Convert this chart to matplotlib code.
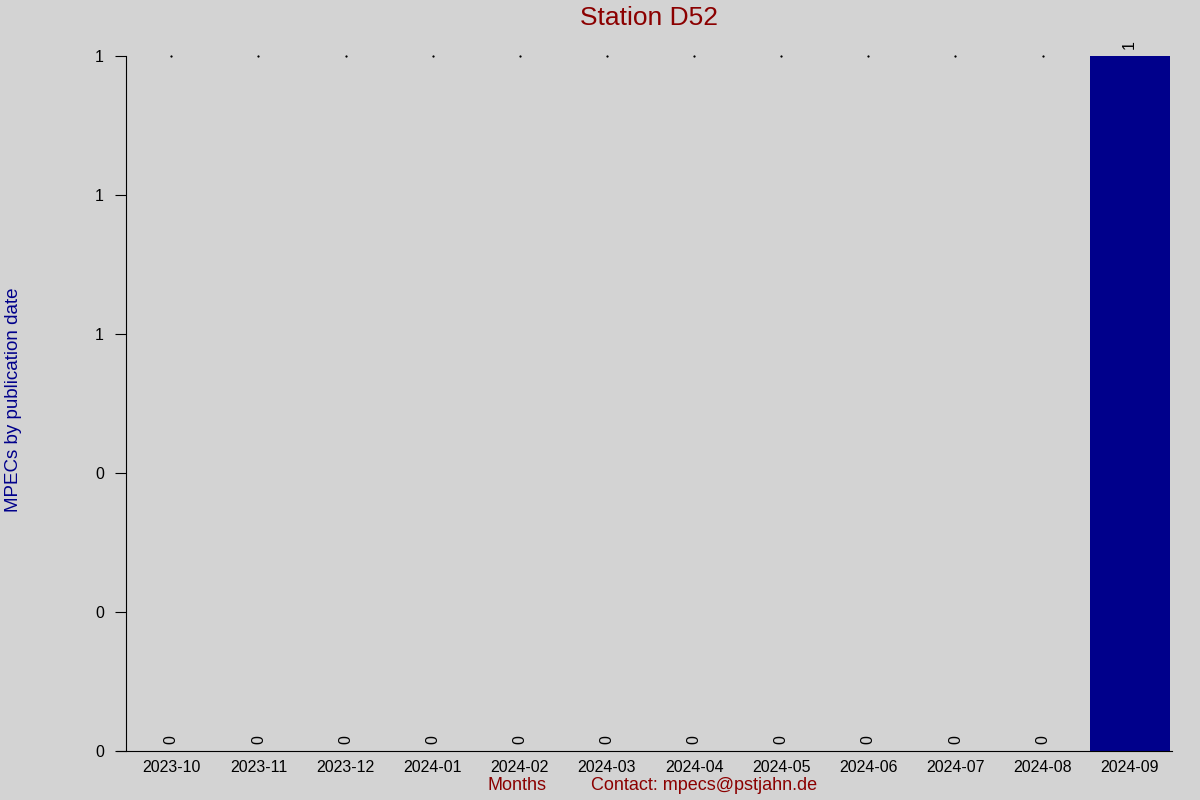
import matplotlib
matplotlib.use("Agg")
import matplotlib.pyplot as plt
from matplotlib.ticker import FuncFormatter

plt.rcParams['font.family'] = ['Liberation Sans', 'DejaVu Sans']

# data
months = ["2023-10", "2023-11", "2023-12", "2024-01", "2024-02", "2024-03",
          "2024-04", "2024-05", "2024-06", "2024-07", "2024-08", "2024-09"]
counts = [0, 0, 0, 0, 0, 0, 0, 0, 0, 0, 0, 1]

bg = "#d3d3d3"
fig = plt.figure(figsize=(12, 8), dpi=100, facecolor=bg)
ax = fig.add_axes([0.105, 0.061, 0.872, 0.869], facecolor=bg)

x = list(range(len(months)))
ax.bar(x, counts, width=0.92, color="#00008b")

# value labels above bars
for xi, c in zip(x, counts):
    ax.text(xi, c + 0.01, str(c), rotation=90, ha="center", va="bottom",
            fontsize=11.5, color="black")

# little marks at the top for empty months
top = max(counts)
ax.plot([xi for xi, c in zip(x, counts) if c == 0],
        [top for c in counts if c == 0], ls="none", marker="s",
        markersize=0.6, color="black", clip_on=False)

ax.set_xlim(-0.52, len(months) - 0.51)
ax.set_ylim(0, top)
ax.set_yticks([0, 0.2, 0.4, 0.6, 0.8, 1.0])
ax.yaxis.set_major_formatter(FuncFormatter(lambda v, p: "%d" % int(v + 0.5)))
ax.set_xticks(x)
ax.set_xticklabels(months)
ax.tick_params(axis="x", length=0, labelsize=11.5, pad=6)
ax.tick_params(axis="y", length=8, direction="out", labelsize=11.5, pad=8)

for s in ["top", "right"]:
    ax.spines[s].set_visible(False)
ax.spines["bottom"].set_bounds(-0.62, len(months) - 0.51)

fig.text(0.541, 0.977, "Station D52", ha="center", va="center",
         fontsize=19, color="#8b0000")
fig.text(0.011, 0.5, "MPECs by publication date", rotation=90,
         ha="center", va="center", fontsize=13.5, color="#00008b")
fig.text(0.431, 0.018, "Months", ha="center", va="center",
         fontsize=13, color="#8b0000")
fig.text(0.587, 0.018, "Contact: mpecs@pstjahn.de", ha="center", va="center",
         fontsize=13, color="#8b0000")

fig.savefig("out.png", dpi=100, facecolor=bg)
